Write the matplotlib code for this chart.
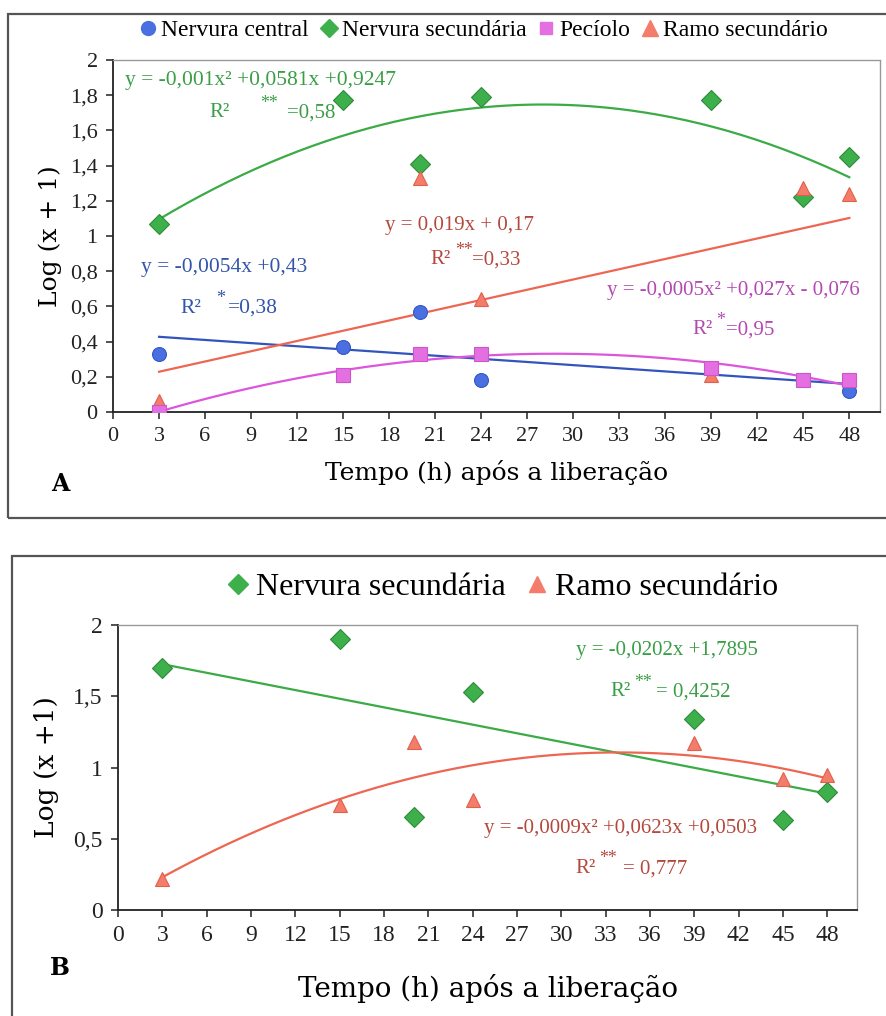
import numpy as np
import matplotlib.pyplot as plt
from matplotlib.patches import Rectangle
from matplotlib.lines import Line2D

plt.rcParams["font.family"] = ["Liberation Serif", "DejaVu Serif"]

# ---- data, panel A ----
horas = [3, 15, 20, 24, 39, 45, 48]
horas_central = [3, 15, 20, 24, 48]
nervura_central = [0.33, 0.37, 0.57, 0.18, 0.12]
nervura_sec_a = [1.07, 1.77, 1.41, 1.79, 1.77, 1.22, 1.45]
peciolo = [0.00, 0.21, 0.33, 0.33, 0.25, 0.18, 0.18]
ramo_sec_a = [0.06, 0.21, 1.33, 0.64, 0.21, 1.27, 1.24]

# ---- data, panel B ----
nervura_sec_b = [1.70, 1.90, 0.65, 1.53, 1.34, 0.63, 0.83]
ramo_sec_b = [0.22, 0.74, 1.18, 0.77, 1.17, 0.92, 0.95]

x_ticks = list(range(0, 49, 3))
ticks_a = [0, 0.2, 0.4, 0.6, 0.8, 1, 1.2, 1.4, 1.6, 1.8, 2]
ticks_b = [0, 0.5, 1, 1.5, 2]

C_BLUE, C_GREEN, C_MAG, C_SAL = "#4a6fe0", "#3db04b", "#e46fe0", "#f47c6a"
L_BLUE, L_GREEN, L_MAG, L_SAL = "#3355bb", "#3bab45", "#dd55dd", "#ee6652"
T_BLUE, T_GREEN, T_MAG, T_SAL = "#3355aa", "#3a9e46", "#b348b3", "#b5483c"

STYLE = {
    "central": dict(marker="o", color=C_BLUE, mec="#3357c8"),
    "nervura": dict(marker="D", color=C_GREEN, mec="#2e8b3a"),
    "peciolo": dict(marker="s", color=C_MAG, mec="#cc55cc"),
    "ramo": dict(marker="^", color=C_SAL, mec="#e0604c"),
}


def fmt_comma(v, pos=None):
    s = f"{v:g}"
    return s.replace(".", ",")


def trend(ax, xs, ys, deg, color):
    # same least-squares fit a spreadsheet trendline uses
    coef = np.polyfit(xs, ys, deg)
    xx = np.linspace(min(xs), max(xs), 200)
    ax.plot(xx, np.polyval(coef, xx), color=color, lw=1.6, zorder=2)


def scatter(ax, xs, ys, key, ms=10):
    st = STYLE[key]
    ax.plot(xs, ys, ls="none", marker=st["marker"], ms=ms, mfc=st["color"],
            mec=st["mec"], mew=0.8, zorder=3)


def r2_label(ax, x, y, stars, value, color, size, star_dx, eq_dx):
    ax.text(x, y, "R²", color=color, fontsize=size, va="center", ha="left")
    ax.annotate(stars, (x, y), xytext=(star_dx, 7), textcoords="offset points",
                color=color, fontsize=size * 0.85, va="center", ha="left")
    ax.annotate(value, (x, y), xytext=(eq_dx, 0), textcoords="offset points",
                color=color, fontsize=size, va="center", ha="left")


def style_axes(ax, yticks, tick_size):
    ax.set_xlim(0, 50)
    ax.set_ylim(0, 2)
    ax.set_xticks(x_ticks)
    ax.set_yticks(yticks)
    ax.yaxis.set_major_formatter(plt.FuncFormatter(fmt_comma))
    for side in ("top", "right"):
        ax.spines[side].set_linestyle((0, (1, 1)))
        ax.spines[side].set_color("#999999")
        ax.spines[side].set_linewidth(1.0)
    for side in ("left", "bottom"):
        ax.spines[side].set_color("#222222")
        ax.spines[side].set_linewidth(1.3)
    ax.tick_params(direction="out", length=5, width=1.1, labelsize=tick_size,
                   colors="#222222", pad=6)


fig = plt.figure(figsize=(8.87, 10.16), dpi=100)

# panel frames (pixel coordinates of the scanned page)
W, H = 887, 1016
for (x0, y0, x1, y1) in [(8, 14, 895, 518), (12, 556, 895, 1030)]:
    fig.patches.append(Rectangle((x0 / W, 1 - y1 / H), (x1 - x0) / W, (y1 - y0) / H,
                                 transform=fig.transFigure, fill=False,
                                 ec="#555555", lw=1.6, zorder=0))

# ---------------- panel A ----------------
axA = fig.add_axes([113 / W, 1 - 412 / H, 767 / W, 352 / H])
style_axes(axA, ticks_a, 16)
trend(axA, horas, nervura_sec_a, 2, L_GREEN)
trend(axA, horas_central, nervura_central, 1, L_BLUE)
trend(axA, horas, ramo_sec_a, 1, L_SAL)
trend(axA, horas, peciolo, 2, L_MAG)
scatter(axA, horas_central, nervura_central, "central")
scatter(axA, horas, nervura_sec_a, "nervura")
scatter(axA, horas, ramo_sec_a, "ramo")
scatter(axA, horas, peciolo, "peciolo")
axA.set_ylabel("Log (x + 1)", family="DejaVu Serif", fontsize=18, labelpad=6)
axA.set_xlabel("Tempo (h) após a liberação", family="DejaVu Serif",
               fontsize=18, labelpad=10)

axA.text(0.8, 1.885, "y = -0,001x² +0,0581x +0,9247", color=T_GREEN, fontsize=15.5, va="center")
r2_label(axA, 6.3, 1.70, "**", "=0,58", T_GREEN, 15, 36, 56)
axA.text(1.8, 0.82, "y = -0,0054x +0,43", color=T_BLUE, fontsize=15.5, va="center")
r2_label(axA, 4.4, 0.59, "*", "=0,38", T_BLUE, 15.5, 26, 34)
axA.text(17.7, 1.057, "y = 0,019x + 0,17", color=T_SAL, fontsize=15, va="center")
r2_label(axA, 20.7, 0.864, "**", "=0,33", T_SAL, 15, 18, 30)
axA.text(32.2, 0.693, "y = -0,0005x² +0,027x - 0,076", color=T_MAG, fontsize=15, va="center")
r2_label(axA, 37.8, 0.466, "*", "=0,95", T_MAG, 15, 17, 24)

fig.text(60 / W, 1 - 484 / H, "A", family="DejaVu Serif", fontweight="bold",
         fontsize=17, ha="center", va="center")

handles_a = [
    Line2D([], [], ls="none", marker="o", ms=10, mfc=C_BLUE, mec=C_BLUE, label="Nervura central"),
    Line2D([], [], ls="none", marker="D", ms=9, mfc=C_GREEN, mec=C_GREEN, label="Nervura secundária"),
    Line2D([], [], ls="none", marker="s", ms=9, mfc=C_MAG, mec=C_MAG, label="Pecíolo"),
    Line2D([], [], ls="none", marker="^", ms=11, mfc=C_SAL, mec=C_SAL, label="Ramo secundário"),
]
fig.legend(handles=handles_a, loc="center", bbox_to_anchor=(482 / W, 1 - 30 / H),
           ncol=4, frameon=False, fontsize=17, handletextpad=0.05,
           columnspacing=0.35, handlelength=1.0)

# ---------------- panel B ----------------
axB = fig.add_axes([118 / W, 1 - 910 / H, 739 / W, 285 / H])
style_axes(axB, ticks_b, 17)
trend(axB, horas, nervura_sec_b, 1, L_GREEN)
trend(axB, horas, ramo_sec_b, 2, L_SAL)
scatter(axB, horas, nervura_sec_b, "nervura")
scatter(axB, horas, ramo_sec_b, "ramo")
axB.set_ylabel("Log (x +1)", family="DejaVu Serif", fontsize=19, labelpad=10)
axB.set_xlabel("Tempo (h) após a liberação", family="DejaVu Serif",
               fontsize=20, labelpad=20)

axB.text(31.0, 1.82, "y = -0,0202x +1,7895", color=T_GREEN, fontsize=15, va="center")
r2_label(axB, 33.3, 1.53, "**", "= 0,4252", T_GREEN, 15, 17, 33)
axB.text(24.75, 0.57, "y = -0,0009x² +0,0623x +0,0503", color=T_SAL, fontsize=15, va="center")
r2_label(axB, 30.95, 0.29, "**", "= 0,777", T_SAL, 15, 17, 34)

fig.text(60 / W, 1 - 968 / H, "B", family="DejaVu Serif", fontweight="bold",
         fontsize=17, ha="center", va="center")

handles_b = [
    Line2D([], [], ls="none", marker="D", ms=10, mfc=C_GREEN, mec=C_GREEN, label="Nervura secundária"),
    Line2D([], [], ls="none", marker="^", ms=12, mfc=C_SAL, mec=C_SAL, label="Ramo secundário"),
]
fig.legend(handles=handles_b, loc="center", bbox_to_anchor=(500 / W, 1 - 587 / H),
           ncol=2, frameon=False, fontsize=23, handletextpad=0.05,
           columnspacing=0.5, handlelength=1.0)

fig.savefig("out.png", dpi=100)
